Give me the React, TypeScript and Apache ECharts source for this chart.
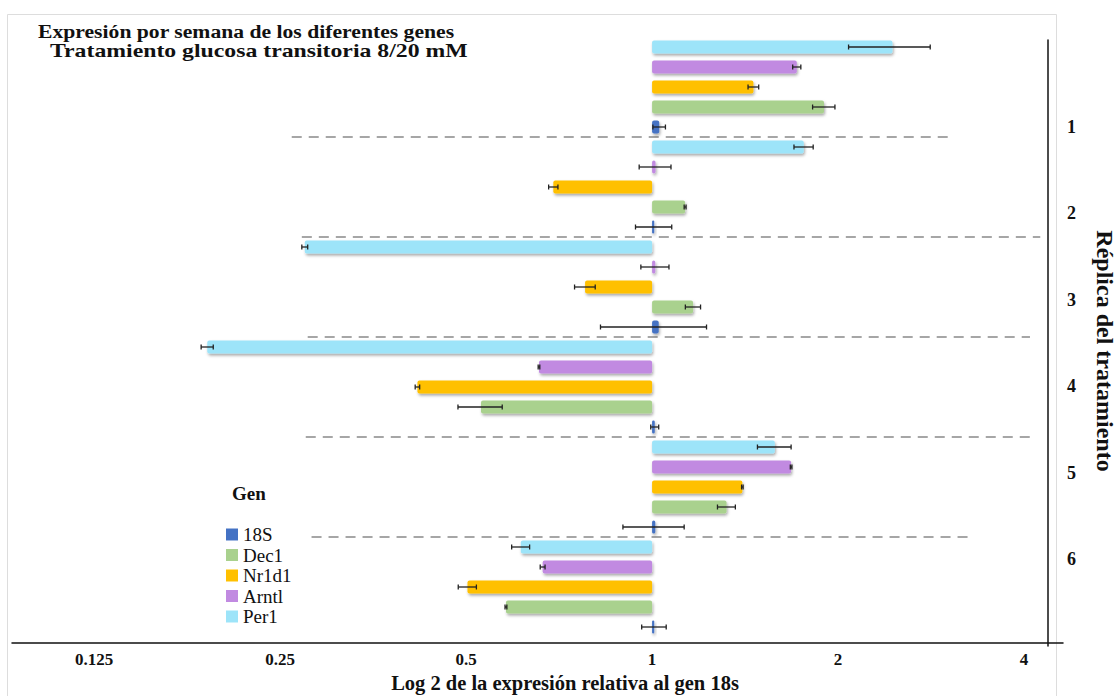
import React, { useEffect, useRef } from "react";
import * as echarts from "echarts";

// Replicas of the treatment and genes, top to bottom inside each replica block
const replicaLabels = ["1", "2", "3", "4", "5", "6"];
const geneOrder = ["Per1", "Arntl", "Nr1d1", "Dec1", "18S"];
const legendOrder = ["18S", "Dec1", "Nr1d1", "Arntl", "Per1"];
const xTickLabels = ["0.125", "0.25", "0.5", "1", "2", "4"];

// Relative expression (fold change vs 18S) per replica, and its deviation
const per1 = [2.45, 1.76, 0.274, 0.1905, 1.58, 0.613];
const per1Sd = [0.37, 0.063, 0.003, 0.0043, 0.099, 0.0205];
const arntl = [1.715, 1.013, 1.012, 0.656, 1.679, 0.665];
const arntlSd = [0.026, 0.06, 0.053, 0.002, 0.005, 0.006];
const nr1d1 = [1.459, 0.692, 0.779, 0.417, 1.4, 0.5025];
const nr1d1Sd = [0.029, 0.012, 0.03, 0.0035, 0.004, 0.017];
const dec1 = [1.898, 1.131, 1.165, 0.5285, 1.32, 0.58];
const dec1Sd = [0.079, 0.004, 0.033, 0.0435, 0.044, 0.002];
const s18 = [1.027, 1.008, 1.025, 1.01, 1.012, 1.008];
const s18Sd = [0.024, 0.068, 0.2, 0.015, 0.115, 0.046];

const geneValues: Record<string, number[]> = { Per1: per1, Arntl: arntl, Nr1d1: nr1d1, Dec1: dec1, "18S": s18 };
const geneSd: Record<string, number[]> = { Per1: per1Sd, Arntl: arntlSd, Nr1d1: nr1d1Sd, Dec1: dec1Sd, "18S": s18Sd };
const geneColors: Record<string, string> = {
  Per1: "#9de4f9",
  Arntl: "#c18ae1",
  Nr1d1: "#ffc000",
  Dec1: "#a9d18e",
  "18S": "#4472c4",
};

const titleLines = ["Expresión por semana de los diferentes genes", "Tratamiento glucosa transitoria 8/20 mM"];

const SERIF = '"Liberation Serif", "DejaVu Serif", serif';
const TEXT = "#111111";

export default function App() {
  const ref = useRef<HTMLDivElement | null>(null);

  useEffect(() => {
    if (!ref.current) return;
    const chart = echarts.init(ref.current, null, { renderer: "svg" });

    const categories: string[] = [];
    replicaLabels.forEach((r) => geneOrder.forEach((g) => categories.push(r + "-" + g)));

    const barSeries = geneOrder.map((g, gi) => {
      const data: (number | string)[] = categories.map(() => "-");
      geneValues[g].forEach((v, ri) => {
        data[ri * geneOrder.length + gi] = v;
      });
      return {
        name: g,
        type: "bar",
        xAxisIndex: 0,
        yAxisIndex: 0,
        barWidth: 13,
        barGap: "-100%",
        data,
        itemStyle: {
          color: geneColors[g],
          borderRadius: 2,
          shadowBlur: 3,
          shadowColor: "rgba(0,0,0,0.35)",
          shadowOffsetX: 1,
          shadowOffsetY: 2,
        },
      };
    });

    const errData: number[][] = [];
    geneOrder.forEach((g, gi) => {
      geneValues[g].forEach((v, ri) => {
        const sd = geneSd[g][ri];
        errData.push([ri * geneOrder.length + gi, v - sd, v + sd]);
      });
    });

    const errorSeries = {
      name: "error",
      type: "custom",
      xAxisIndex: 0,
      yAxisIndex: 0,
      z: 5,
      encode: { x: [1, 2], y: 0 },
      data: errData,
      renderItem: (_params: any, api: any) => {
        const row = api.value(0);
        const lo = api.coord([api.value(1), row]);
        const hi = api.coord([api.value(2), row]);
        const cap = 2.5;
        const st = { stroke: "#222222", lineWidth: 1.3 };
        return {
          type: "group",
          children: [
            { type: "line", shape: { x1: lo[0], y1: lo[1], x2: hi[0], y2: hi[1] }, style: st },
            { type: "line", shape: { x1: lo[0], y1: lo[1] - cap, x2: lo[0], y2: lo[1] + cap }, style: st },
            { type: "line", shape: { x1: hi[0], y1: hi[1] - cap, x2: hi[0], y2: hi[1] + cap }, style: st },
          ],
        };
      },
    };

    // Frame, two-line title (slightly widened serif) and the legend heading
    const titleFont = { fontFamily: SERIF, fontWeight: "bold", fontSize: 19, lineHeight: 19, fill: TEXT };
    const baseGraphic: any[] = [
      {
        type: "rect",
        silent: true,
        shape: { x: 7.5, y: 14.5, width: 1049, height: 700 },
        style: { fill: "none", stroke: "#dddddd", lineWidth: 1 },
      },
      {
        type: "text",
        x: 38,
        y: 22,
        scaleX: 1.14,
        style: { ...titleFont, text: titleLines[0], verticalAlign: "top" },
      },
      {
        type: "text",
        x: 50,
        y: 41,
        scaleX: 1.25,
        style: { ...titleFont, text: titleLines[1], verticalAlign: "top" },
      },
      {
        type: "text",
        left: 232,
        top: 484,
        style: { text: "Gen", fontFamily: SERIF, fontWeight: "bold", fontSize: 19, fill: TEXT },
      },
    ];

    chart.setOption({
      animation: false,
      backgroundColor: "#ffffff",
      legend: {
        data: legendOrder,
        orient: "vertical",
        left: 221,
        top: 520,
        icon: "rect",
        itemWidth: 12,
        itemHeight: 12,
        itemGap: 1.5,
        textStyle: { fontFamily: SERIF, fontSize: 19, color: TEXT },
      },
      grid: [
        { left: 12, right: 54, top: 37, height: 600, containLabel: false, outerBoundsMode: "none" },
        { left: 12, right: 69, top: 40, height: 606, containLabel: false, outerBoundsMode: "none" },
      ],
      xAxis: [
        {
          type: "log",
          logBase: 2,
          gridIndex: 0,
          min: 0.092,
          max: 4.626,
          offset: 6,
          axisLine: { show: true, lineStyle: { color: "#111111", width: 1.5 } },
          axisTick: { show: false },
          splitLine: { show: false },
          axisLabel: {
            showMinLabel: false,
            showMaxLabel: false,
            margin: 8,
            fontFamily: SERIF,
            fontWeight: "bold",
            fontSize: 17,
            color: TEXT,
            formatter: (v: number) => {
              const k = Math.round(Math.log2(v)) + 3;
              return xTickLabels[k] ?? "";
            },
          },
          name: "Log 2 de la expresión relativa al gen 18s",
          nameLocation: "middle",
          nameGap: 27,
          nameTextStyle: {
            fontFamily: SERIF,
            fontWeight: "bold",
            fontSize: 20.5,
            color: TEXT,
            padding: [0, 0, 0, 55],
          },
        },
        { type: "value", gridIndex: 1, show: false, min: 1, max: 2 },
      ],
      yAxis: [
        {
          type: "category",
          gridIndex: 0,
          data: categories,
          inverse: true,
          show: false,
        },
        {
          type: "value",
          gridIndex: 1,
          position: "right",
          min: 0,
          max: 7,
          interval: 1,
          inverse: true,
          axisLine: { show: true, onZero: false, lineStyle: { color: "#111111", width: 1.5 } },
          axisTick: { show: false },
          splitLine: { show: false },
          axisLabel: {
            margin: 19,
            fontFamily: SERIF,
            fontWeight: "bold",
            fontSize: 18,
            color: TEXT,
            formatter: (v: number) => (v >= 1 && v <= replicaLabels.length ? replicaLabels[v - 1] : ""),
          },
          name: "Réplica del tratamiento",
          nameLocation: "middle",
          nameRotate: -90,
          nameGap: 45,
          nameTextStyle: {
            fontFamily: SERIF,
            fontWeight: "bold",
            fontSize: 24,
            color: TEXT,
            padding: [0, 0, 0, 16],
          },
        },
      ],
      graphic: baseGraphic,
      series: [...barSeries, errorSeries],
    });

    // Dashed separators between replica blocks, placed through the chart's own scales
    const sepExtents = [
      [0.261, 3.01],
      [0.271, 4.25],
      [0.277, 4.09],
      [0.275, 4.09],
      [0.281, 3.25],
    ];
    const seps = sepExtents.map((ext, i) => {
      const lastRow = (i + 1) * geneOrder.length - 1;
      const a = chart.convertToPixel({ gridIndex: 0 }, [ext[0], lastRow]) as number[];
      const b = chart.convertToPixel({ gridIndex: 0 }, [ext[1], lastRow + 1]) as number[];
      const y = (a[1] + b[1]) / 2;
      return {
        type: "line",
        silent: true,
        shape: { x1: a[0], y1: y, x2: b[0], y2: y },
        style: { stroke: "#a6a6a6", lineWidth: 2, lineDash: [10, 7] },
      };
    });
    chart.setOption({ graphic: [...baseGraphic, ...seps] });

    return () => chart.dispose();
  }, []);

  return (
    <div
      ref={ref}
      style={{ position: "absolute", left: 0, top: 0, width: 1117, height: 696, background: "#fff" }}
    />
  );
}
